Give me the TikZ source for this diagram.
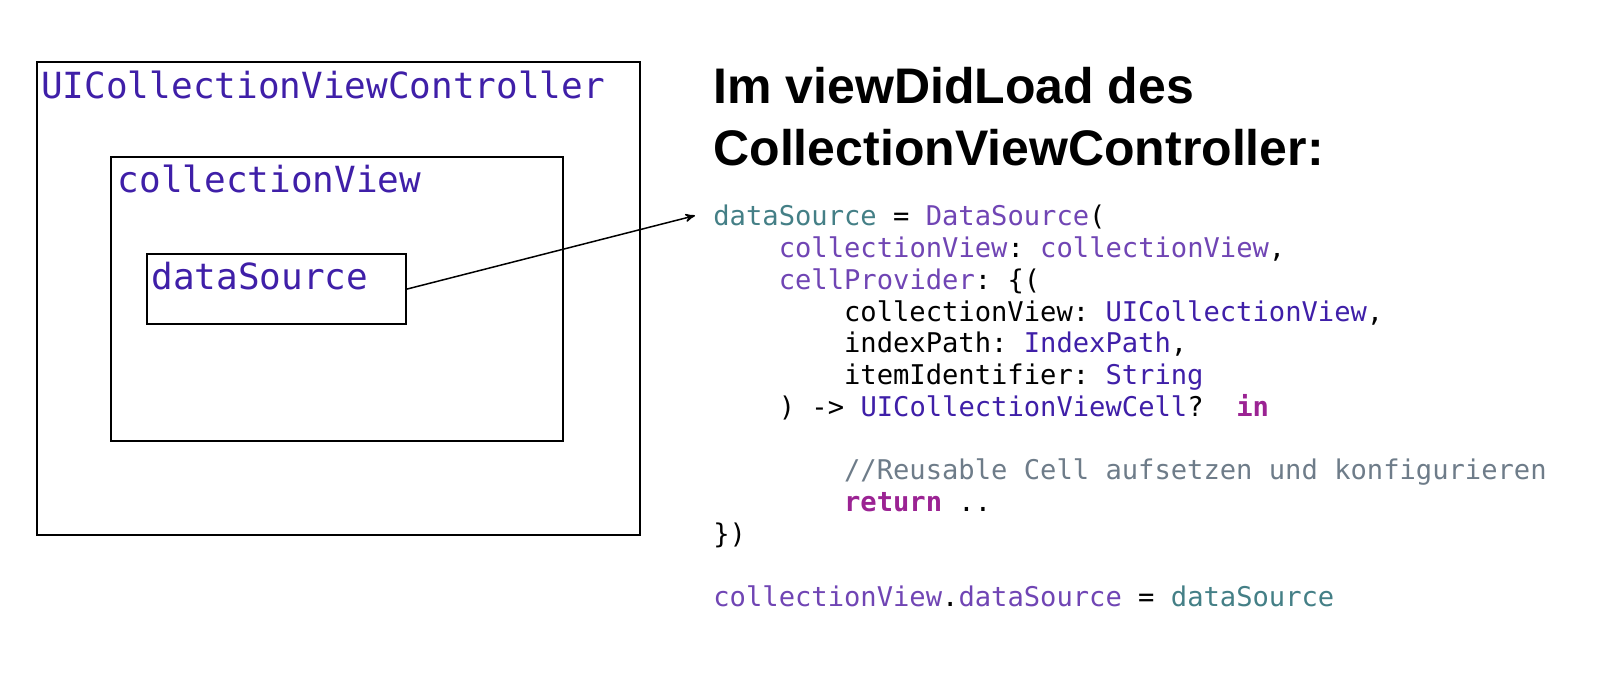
\documentclass[tikz,border=0pt]{standalone}
\usepackage{fontspec}
\setmonofont{DejaVu Sans Mono}
\setsansfont{Liberation Sans}
\usetikzlibrary{arrows,positioning}
\definecolor{swiftTeal}{HTML}{447F86}
\definecolor{swiftPurple}{HTML}{7045B4}
\definecolor{swiftType}{HTML}{3F1FA8}
\definecolor{swiftKey}{HTML}{9B2393}
\definecolor{swiftNote}{HTML}{6E7C89}
\newcommand{\cTeal}[1]{\textcolor{swiftTeal}{#1}}
\newcommand{\cPurple}[1]{\textcolor{swiftPurple}{#1}}
\newcommand{\cType}[1]{\textcolor{swiftType}{#1}}
\newcommand{\cKey}[1]{\textcolor{swiftKey}{\bfseries #1}}
\newcommand{\cNote}[1]{\textcolor{swiftNote}{#1}}

\begin{document}
\begin{tikzpicture}
	[ x=0.5pt, y=-0.5pt,
		viewbox/.style={rectangle,draw,line width=1pt,anchor=north west,inner sep=0},
		boxlabel/.style={anchor=base west,inner sep=0,text=swiftType,font=\ttfamily\fontsize{18}{20}\selectfont},
		heading/.style={anchor=base west,inner sep=0,font=\sffamily\bfseries\fontsize{25}{30}\selectfont},
		code/.style={anchor=base west,inner sep=0,font=\ttfamily\fontsize{13.57}{16}\selectfont},
		arrowOut/.style={->,>=stealth',line width=0.75pt}]

	\useasboundingbox (0,0) rectangle (1602,694);

	% nested views
	\node[viewbox,minimum width=301.4pt,minimum height=236.6pt] (controller) at (35.8,61.3) {};
	\node[viewbox,minimum width=225.9pt,minimum height=142pt] (collection) at (110.3,156.3) {};
	\node[viewbox,minimum width=129.2pt,minimum height=34.8pt] (datasource) at (146.1,253.4) {};
	\node[boxlabel] (controller label) at (40.9,99) {UICollectionViewController};
	\node[boxlabel] (collection label) at (117.5,193) {collectionView};
	\node[boxlabel] (datasource label) at (151,290) {dataSource};

	% heading
	\node[heading] (title one) at (713,104) {Im viewDidLoad des};
	\node[heading] (title two) at (713,165.5) {CollectionViewController:};

	% code
	\node[code] (code1) at (713,225.8) {\cTeal{dataSource} = \cPurple{DataSource}(};
	\node[code] (code2) at (778.4,257.6) {\cPurple{collectionView}: \cPurple{collectionView},};
	\node[code] (code3) at (778.4,289.3) {\cPurple{cellProvider}: \{(};
	\node[code] (code4) at (843.7,321.1) {collectionView: \cType{UICollectionView},};
	\node[code] (code5) at (843.7,352.9) {indexPath: \cType{IndexPath},};
	\node[code] (code6) at (843.7,384.7) {itemIdentifier: \cType{String}};
	\node[code] (code7) at (778.4,416.4) {) -> \cType{UICollectionViewCell}?\ \ \cKey{in}};
	\node[code] (code8) at (843.7,480.0) {\cNote{//Reusable Cell aufsetzen und konfigurieren}};
	\node[code] (code9) at (843.7,511.7) {\cKey{return} ..};
	\node[code] (code10) at (713,543.5) {\})};
	\node[code] (code11) at (713,607.0) {\cPurple{collectionView}.\cPurple{dataSource} = \cTeal{dataSource}};

	\coordinate (code target) at (695,215.6);
	\draw[arrowOut] (datasource.east) -- (code target);
\end{tikzpicture}
\end{document}
